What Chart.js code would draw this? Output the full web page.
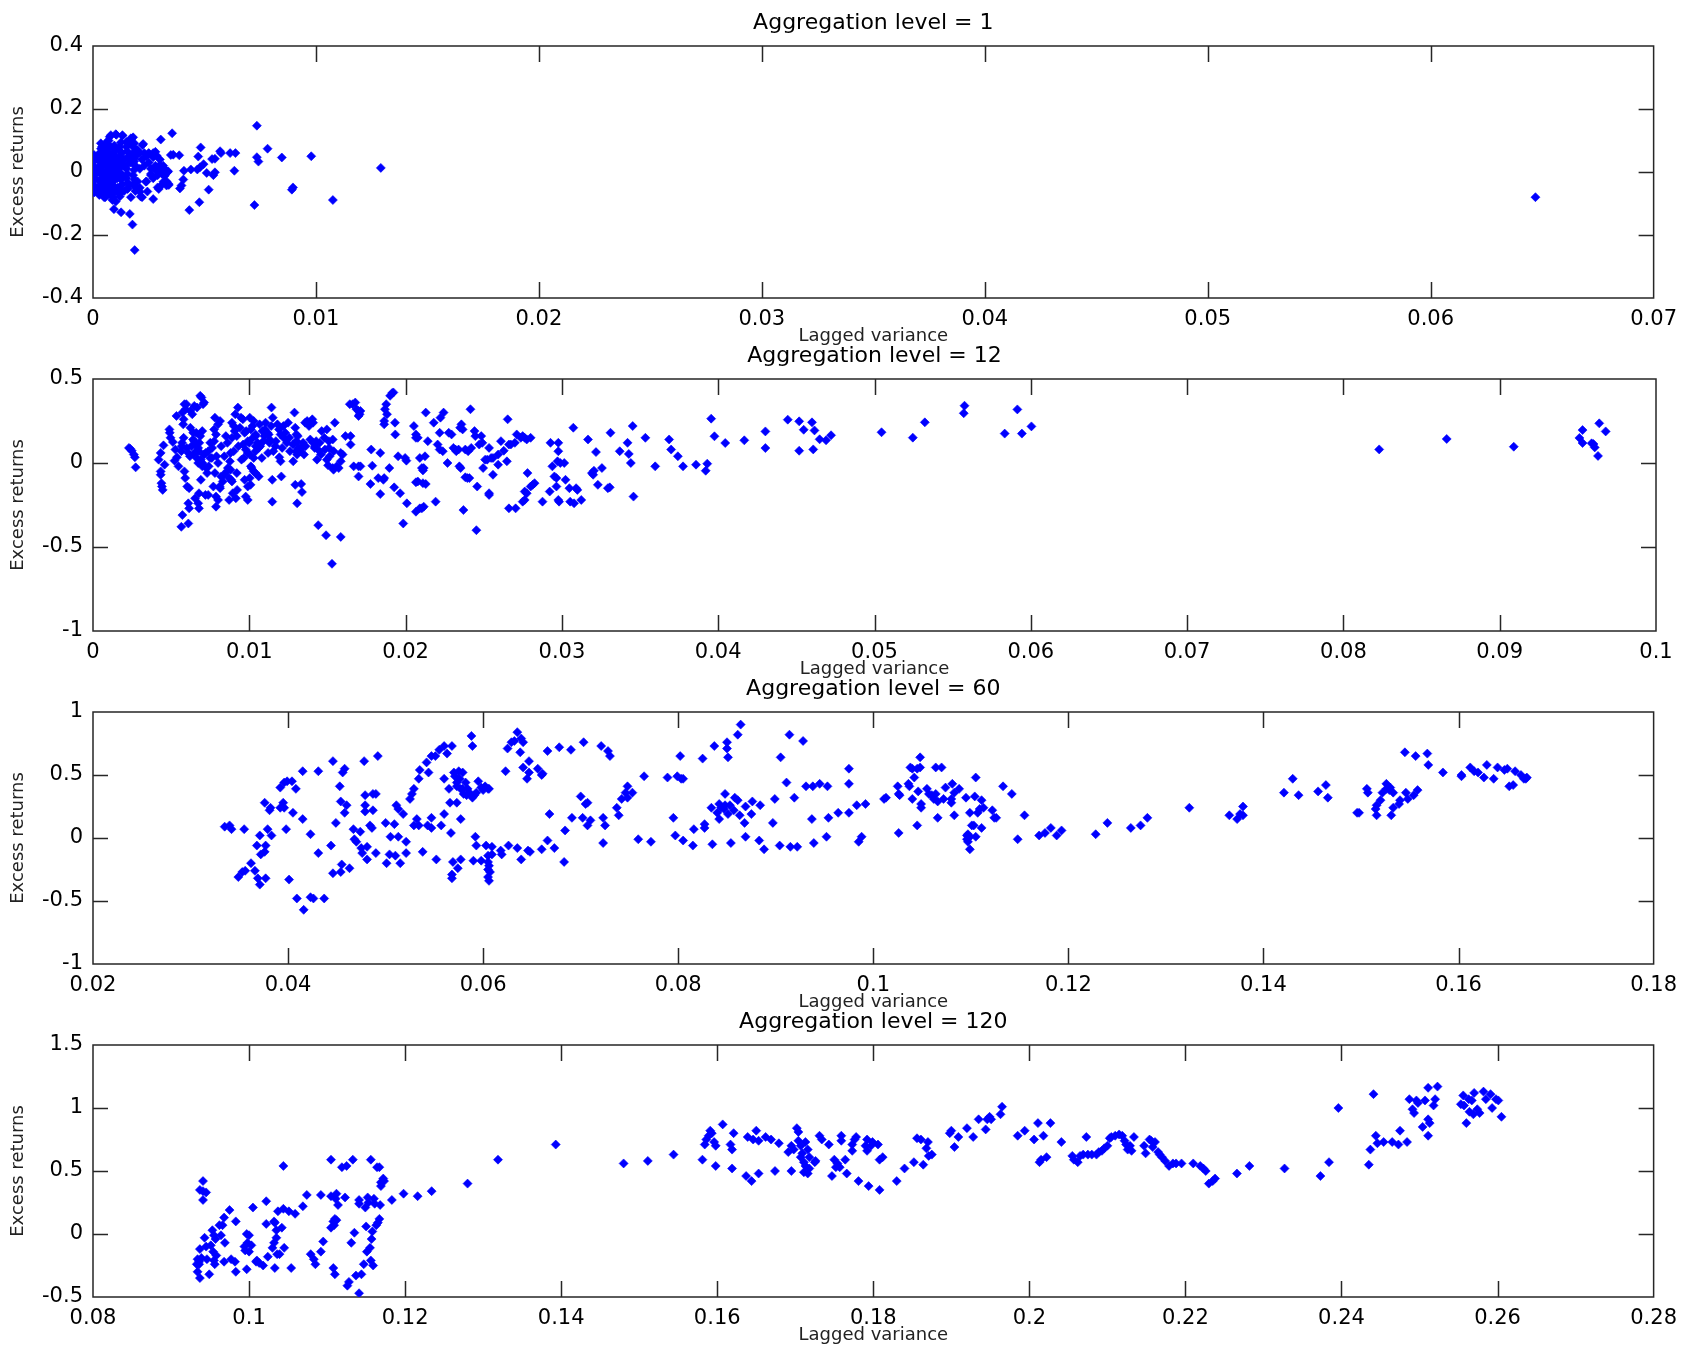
<!DOCTYPE html>
<html>
<head>
<meta charset="utf-8">
<script src="https://cdn.jsdelivr.net/npm/chart.js@4.4.1/dist/chart.umd.min.js"></script>
<style>
  html, body { margin: 0; padding: 0; background: #fff; }
  body { width: 1686px; height: 1348px; position: relative; overflow: hidden; }
  canvas { position: absolute; left: 0; }
</style>
</head>
<body>
<canvas id="c1" width="1686" height="350" style="top:0px"></canvas>
<canvas id="c2" width="1686" height="350" style="top:333px"></canvas>
<canvas id="c3" width="1686" height="350" style="top:666px"></canvas>
<canvas id="c4" width="1686" height="350" style="top:999px"></canvas>
<script>
// titles and tick labels
const titles = ['Aggregation level = 1', 'Aggregation level = 12', 'Aggregation level = 60', 'Aggregation level = 120'];
const xLabel = 'Lagged variance';
const yLabel = 'Excess returns';

const xTicks1 = [0, 0.01, 0.02, 0.03, 0.04, 0.05, 0.06, 0.07];
const yTicks1 = [-0.4, -0.2, 0, 0.2, 0.4];
const xTicks2 = [0, 0.01, 0.02, 0.03, 0.04, 0.05, 0.06, 0.07, 0.08, 0.09, 0.1];
const yTicks2 = [-1, -0.5, 0, 0.5];
const xTicks3 = [0.02, 0.04, 0.06, 0.08, 0.1, 0.12, 0.14, 0.16, 0.18];
const yTicks3 = [-1, -0.5, 0, 0.5, 1];
const xTicks4 = [0.08, 0.1, 0.12, 0.14, 0.16, 0.18, 0.2, 0.22, 0.24, 0.26, 0.28];
const yTicks4 = [-0.5, 0, 0.5, 1, 1.5];

// [lagged variance, excess return]
const level1 = [
  [0.0001,0.01],[0.0001,-0.02],[0.0002,0.04],[0.0002,-0.05],[0.0002,0.0],[0.0003,0.06],[0.0003,-0.03],[0.0003,0.02],[0.0003,-0.07],[0.0004,0.08],
  [0.0004,-0.01],[0.0004,0.03],[0.0004,-0.05],[0.0005,0.05],[0.0005,-0.08],[0.0005,0.0],[0.0005,0.07],[0.0005,-0.03],[0.0006,0.02],[0.0006,-0.06],
  [0.0006,0.09],[0.0006,0.04],[0.0006,-0.02],[0.0007,0.06],[0.0007,-0.04],[0.0007,0.01],[0.0007,-0.07],[0.0007,0.1],[0.0008,0.03],[0.0008,-0.01],
  [0.0008,0.05],[0.0008,-0.05],[0.0008,0.08],[0.0009,0.0],[0.0009,-0.08],[0.0009,0.06],[0.0009,-0.03],[0.001,0.02],[0.001,-0.06],[0.001,0.04],
  [0.001,0.07],[0.0011,-0.02],[0.0011,0.01],[0.0011,-0.05],[0.0012,0.05],[0.0012,-0.07],[0.0012,0.03],[0.0012,0.08],[0.0013,-0.01],[0.0013,-0.04],
  [0.0013,0.06],[0.0014,0.02],[0.0014,-0.06],[0.0014,0.04],[0.0015,0.08],[0.0015,-0.02],[0.0015,0.01],[0.0016,0.09],[0.0016,-0.04],[0.0016,0.05],
  [0.0017,-0.08],[0.0017,0.03],[0.0018,0.06],[0.0018,-0.01],[0.0018,0.08],[0.0019,0.02],[0.0019,-0.06],[0.0019,0.05],[0.002,0.07],[0.002,-0.03],
  [0.0021,0.01],[0.0021,0.06],[0.0021,-0.05],[0.0022,0.04],[0.0022,-0.08],[0.0023,0.06],[0.0023,0.02],[0.0024,0.05],[0.0024,-0.03],[0.0025,0.03],
  [0.0025,0.06],[0.0026,0.01],[0.0027,0.06],[0.0027,-0.02],[0.0028,0.02],[0.0029,-0.01],[0.003,0.04],[0.003,0.0],[0.0031,-0.04],[0.0032,0.01],
  [0.0033,0.0],[0.0033,-0.03],
  [0.00005,-0.065],[0.00006,-0.044],[0.00004,-0.026],[0.00005,-0.006],[0.00006,0.016],[0.00004,0.034],[0.00005,0.054],
  [0.00035,-0.064],[0.00036,-0.046],[0.00034,-0.024],[0.00035,-0.004],[0.00036,0.014],[0.00034,0.036],[0.00035,0.056],[0.00036,0.074],
  [0.00065,-0.066],[0.00066,-0.044],[0.00064,-0.026],[0.00065,-0.004],[0.00066,0.016],[0.00064,0.034],[0.00065,0.056],[0.00066,0.076],
  [0.00095,-0.064],[0.00096,-0.046],[0.00094,-0.024],[0.00095,-0.006],[0.00096,0.014],[0.00094,0.036],[0.00095,0.054],[0.00096,0.084],
  [0.00125,-0.056],[0.00126,-0.024],[0.00124,-0.004],[0.00125,0.016],[0.00126,0.036],[0.00124,0.064],[0.00125,0.094],
  [0.00155,-0.054],[0.00156,-0.034],[0.00154,-0.006],[0.00155,0.024],[0.00156,0.044],[0.00154,0.066],
  [0.00185,-0.044],[0.00186,-0.024],[0.00184,0.006],[0.00185,0.034],[0.00186,0.044],
  [0.00075,0.112],[0.00105,0.118],[0.00132,0.115],[0.00172,0.105],[0.0018,0.11],[0.00225,0.089],[0.0027,-0.086],[0.00295,-0.054],[0.0033,-0.043],[0.00339,-0.038],
  [0.00177,-0.167],[0.00187,-0.248],[0.00165,-0.133],[0.00126,-0.128],[0.00094,-0.118],[0.00102,-0.094],
  [0.00355,0.123],[0.00304,0.103],[0.00483,0.078],[0.00472,0.049],[0.00534,0.041],[0.00547,0.042],[0.0057,0.066],[0.00574,0.06],[0.00615,0.06],[0.00639,0.06],
  [0.00634,0.004],[0.00439,0.008],[0.00408,0.004],[0.00468,0.008],[0.0048,0.015],[0.00496,0.025],[0.0051,-0.003],[0.0054,-0.01],[0.00547,-0.001],[0.00337,0.002],
  [0.00349,0.054],[0.0036,0.055],[0.00387,0.053],[0.0039,-0.052],[0.00397,-0.043],[0.00405,-0.024],[0.00477,-0.096],[0.00432,-0.121],[0.00519,-0.056],[0.00724,-0.105],
  [0.00735,0.147],[0.00735,0.047],[0.00742,0.033],[0.00783,0.074],[0.00847,0.046],[0.00979,0.05],[0.01291,0.013],[0.01076,-0.089],[0.00897,-0.049],[0.00892,-0.056],
  [0.0026,-0.006],[0.00285,0.004],[0.00315,0.02],[0.003,0.015],[0.0027,0.047],[0.00285,0.052],[0.0031,-0.006],[0.00322,-0.012],
  [0.0025,0.059],[0.0028,0.064],[0.0030,0.022],[0.0032,0.006],[0.00335,0.0],[0.00316,-0.031],[0.0034,-0.041],[0.0029,-0.049],[0.00244,-0.062],[0.00214,-0.078],
  [0.0021,-0.063],[0.00237,-0.031],[0.0026,-0.01],[0.00274,0.012],[0.00222,0.086],[0.00185,0.091],[0.0015,0.095],[0.0017,0.107],[0.00132,0.117],[0.00102,0.12],
  [0.0008,0.117],[0.00035,0.091],[0.00065,0.098],[0.00028,-0.073],[0.00055,-0.08],[0.00087,-0.089],[0.0012,-0.078],[0.00155,-0.052],[0.0018,-0.04],
  [0.0647,-0.08]
];

const level12 = [
  [0.0023,0.09],[0.00238,0.085],[0.00248,0.073],[0.00261,0.05],[0.00268,0.034],[0.00273,-0.026],
  [0.0042,0.02],[0.00433,0.06],[0.00451,0.105],[0.00433,-0.05],[0.00433,-0.07],[0.00438,-0.12],[0.00441,-0.14],[0.00446,-0.16],[0.00458,-0.01],
  [0.00489,0.2],[0.00491,0.18],[0.00496,0.15],[0.00511,0.125],[0.00534,0.28],[0.00527,0.08],[0.00522,0.014],[0.00537,0.034],[0.00547,-0.02],[0.00565,0.07],
  [0.00567,0.1],[0.00572,0.3],[0.00585,0.35],[0.00597,0.35],[0.00592,0.32],[0.0058,0.26],[0.00577,0.23],[0.00572,-0.31],[0.00565,-0.38],[0.0061,-0.36],
  [0.0061,-0.24],[0.00615,-0.27],[0.00585,-0.05],[0.0059,-0.09],[0.00603,-0.14],[0.00615,-0.15],[0.00623,0.31],[0.00635,0.29],[0.00648,0.34],[0.00666,0.33],
  [0.00686,0.4],[0.00694,0.39],[0.00711,0.36],[0.00704,0.35],[0.00623,0.21],[0.00641,0.18],[0.00648,0.13],[0.00661,0.11],[0.00673,0.09],[0.00686,0.16],
  [0.00699,0.19],[0.00643,0.05],[0.00668,0.026],[0.00678,0.07],[0.00653,-0.21],[0.00678,-0.18],[0.00719,-0.19],[0.00737,-0.19],[0.00678,-0.27],[0.00673,-0.24],
  [0.00673,0],[0.00699,-0.02],[0.00724,-0.03],[0.00749,0.03],[0.00737,0.07],[0.00762,0.09],[0.00775,0.13],[0.00787,0.17],[0.008,0.23],[0.00813,0.25],
  [0.00775,0.2],[0.00787,-0.2],[0.00787,-0.26],[0.008,-0.22],[0.0077,-0.14],[0.00813,-0.15],[0.0083,-0.11],[0.00838,-0.07],[0.00856,-0.05],[0.00871,-0.09],
  [0.00884,-0.1],[0.00863,-0.03],[0.00876,0.01],[0.00889,0.15],[0.00901,0.22],[0.00889,0.24],[0.00906,0.19],[0.00927,0.33],[0.00947,0.27],[0.00959,0.26],
  [0.00914,-0.21],[0.00894,-0.18],[0.00871,-0.22],[0.00889,-0.11],[0.00922,-0.16],[0.00977,-0.2],[0.0099,-0.22],[0.01003,-0.09],[0.01015,-0.03],[0.01028,-0.05],
  [0.0099,-0.14],[0.01008,-0.13],[0.01003,0.27],[0.01028,0.25],[0.01023,0.15],[0.01041,0.16],[0.01053,0.12],[0.01041,0.1],[0.0099,0.13],[0.00977,0.08],
  [0.00965,0.03],[0.01003,0.05],[0.01028,0.03],[0.01066,0.23],[0.01084,0.19],[0.01096,0.16],[0.01104,0.24],[0.01116,0.18],[0.01124,0.17],[0.01129,0.12],
  [0.01142,0.33],[0.01147,-0.1],[0.01147,-0.23],[0.01154,0.07],[0.01167,0.1],[0.01192,0.034],[0.012,0.01],[0.01205,-0.08],[0.0118,0.23],[0.012,0.17],
  [0.01218,0.22],[0.0123,0.18],[0.01248,0.24],[0.01256,0.15],[0.01289,0.3],[0.01294,0.21],[0.01301,0.17],[0.01306,0.125],[0.01314,0.09],[0.01299,0.07],
  [0.01306,0.05],[0.01281,0.01],[0.01294,-0.13],[0.01306,-0.24],[0.01332,-0.125],[0.01337,-0.173],[0.01327,0.07],[0.01337,0.1],[0.01344,0.12],[0.01357,0.24],
  [0.0137,0.25],[0.01382,0.22],[0.01403,0.26],[0.01408,0.24],[0.01428,0.13],[0.01446,0.073],[0.01458,0.05],[0.01484,0.08],[0.01496,0.02],[0.01504,-0.014],
  [0.01514,0.04],[0.01534,-0.03],[0.01539,-0.04],[0.01559,-0.02],[0.01572,-0.03],[0.01585,0.01],[0.01597,0.05],[0.01408,0.12],[0.01418,0.09],[0.01433,0.02],
  [0.01463,0.19],[0.01496,0.2],[0.01509,0.13],[0.01534,0.14],[0.01547,0.24],[0.01585,0.06],[0.01615,0.16],[0.01648,0.11],[0.01648,0.16],[0.01441,-0.37],
  [0.01491,-0.43],[0.01529,-0.6],[0.01585,-0.44],[0.01643,0.35],[0.01661,0.35],[0.01678,0.36],[0.01686,0.32],[0.01699,0.31],[0.01699,0.28],[0.01706,0.29],
  [0.01711,0.31],[0.01668,-0.02],[0.01699,-0.02],[0.01711,-0.02],[0.01699,-0.08],[0.0178,0.08],[0.01787,-0.016],[0.01775,-0.125],[0.01825,-0.09],[0.01838,-0.185],
  [0.01858,-0.1],[0.01863,-0.09],[0.01838,0.06],[0.01881,0.29],[0.01863,0.25],[0.01863,0.23],[0.01876,0.35],[0.01868,0.32],[0.01901,0.4],[0.01914,0.417],
  [0.01922,0.42],[0.01896,-0.03],[0.01932,0.24],[0.01934,0.17],[0.01927,-0.145],[0.01952,0.04],[0.01965,-0.18],[0.01985,-0.36],[0.02008,-0.24],[0.01997,0.03],
  [0.02005,0.014],[0.02053,0.22],[0.02066,0.17],[0.02066,0.15],[0.02078,0.15],[0.02091,0.03],[0.02104,-0.03],[0.02111,-0.044],[0.02078,-0.11],[0.02066,-0.115],
  [0.02111,-0.12],[0.02129,-0.125],[0.02116,-0.03],[0.02124,0.04],[0.02142,0.13],[0.02129,0.3],[0.02091,-0.27],[0.02104,-0.27],[0.02116,-0.26],[0.02066,-0.29],
  [0.0218,0.24],[0.02192,-0.23],[0.02218,0.18],[0.02223,0.27],[0.02243,0.3],[0.02205,0.11],[0.02218,0.08],[0.02238,0.07],[0.02268,0],[0.02276,0.18],
  [0.02294,0.17],[0.02306,0.09],[0.02319,0.08],[0.02324,0.07],[0.02339,0.08],[0.02349,0.21],[0.02357,0.23],[0.02365,0.2],[0.02344,-0.02],[0.02352,-0.03],
  [0.02382,0.08],[0.024,0.07],[0.0237,-0.28],[0.02382,-0.085],[0.02395,-0.09],[0.02408,-0.09],[0.02415,0.32],[0.0242,0.09],[0.02441,0.19],[0.02446,0.16],
  [0.02458,-0.14],[0.02453,-0.4],[0.02471,0.11],[0.02484,0.16],[0.02491,0.12],[0.02496,-0.03],[0.02509,0.02],[0.02522,0.02],[0.02534,0.09],[0.02547,0.03],
  [0.02559,0.03],[0.02534,-0.18],[0.02534,-0.19],[0.02559,-0.07],[0.02592,0.05],[0.02592,-0.01],[0.0261,0.13],[0.02628,0.073],[0.02648,0.01],[0.02653,0.26],
  [0.02661,0.11],[0.02673,0.11],[0.02699,0.12],[0.02711,0.17],[0.02661,-0.27],[0.02704,-0.27],[0.02737,0.15],[0.02749,0.16],[0.02762,0.15],[0.02775,0.14],
  [0.028,0.15],[0.0278,-0.06],[0.02762,-0.17],[0.02775,-0.18],[0.028,-0.14],[0.02813,-0.13],[0.02825,-0.12],[0.02762,-0.22],[0.02749,-0.23],[0.02876,-0.23],
  [0.02922,-0.17],[0.02927,0.12],[0.02939,-0.02],[0.02952,-0.08],[0.02965,-0.09],[0.02977,0.12],[0.02977,0.07],[0.02972,0.01],[0.0299,0],[0.02965,-0.14],
  [0.02977,-0.22],[0.02982,-0.23],[0.03015,0],[0.03023,-0.1],[0.03048,-0.15],[0.03053,-0.23],[0.03078,-0.24],[0.03099,-0.16],[0.03091,-0.15],[0.03124,-0.22],
  [0.03073,0.21],[0.03167,0.14],[0.03192,-0.06],[0.032,-0.07],[0.03205,-0.046],[0.03218,0.065],[0.0323,-0.13],[0.03256,-0.03],[0.03294,-0.15],[0.03306,-0.145],
  [0.03311,0.18],[0.0337,0.07],[0.0342,0.12],[0.03428,0.054],[0.03441,0],[0.03453,0.22],[0.03458,-0.2],[0.03534,0.15],[0.03597,-0.02],[0.03686,0.14],
  [0.03699,0.08],[0.03742,0.04],[0.03775,-0.02],[0.03858,-0.01],
  [0.0392,-0.046],[0.0393,-0.004],[0.03955,0.264],[0.03976,0.159],[0.04045,0.119],[0.04167,0.135],[0.04302,0.188],[0.04302,0.089],
  [0.04445,0.258],[0.04518,0.248],[0.04547,0.198],[0.04518,0.073],[0.046,0.242],[0.04616,0.194],[0.04608,0.081],[0.04649,0.141],[0.0469,0.135],[0.04722,0.165],
  [0.05045,0.183],[0.05245,0.151],[0.05322,0.242],[0.05576,0.341],[0.05571,0.296],[0.05833,0.175],[0.05914,0.319],[0.05943,0.175],[0.06004,0.218],[0.08229,0.081],
  [0.08661,0.143],[0.0909,0.097],[0.0951,0.149],[0.0953,0.196],[0.0953,0.119],[0.096,0.113],[0.09608,0.093],[0.09637,0.236],[0.09629,0.042],[0.09678,0.188],[0.09588,0.117],
  [0.0075,0.12],[0.0082,0.1],[0.0088,0.06],[0.0093,0.1],[0.0097,0.18],[0.0101,0.2],[0.0104,0.07],[0.0107,0.1],[0.0112,0.06],[0.0117,0.13],
  [0.0121,0.09],[0.0126,0.07],[0.0131,0.16],[0.0135,0.05],[0.0071,0.05],[0.0066,0.18],[0.0063,0.1],[0.0058,0.15],[0.0069,0.02],[0.0079,0.04],
  [0.0085,0.16],[0.0095,0.02],[0.0109,0.13],[0.0114,0.22],[0.0099,0.06],[0.0061,0.06],[0.0078,0.27],[0.0091,0.29],
  [0.0057,0.12],[0.006,0.09],[0.0062,0.04],[0.0064,0.14],[0.0066,0.07],[0.0068,0.12],[0.007,0.0],[0.0072,0.06],[0.0074,-0.02],[0.0076,0.03],
  [0.0078,-0.06],[0.008,0.0],[0.0082,-0.08],[0.0084,0.04],[0.0086,0.12],[0.0088,-0.04],[0.009,0.07],[0.0092,0.16],[0.0094,0.21],[0.0096,0.11],
  [0.0098,0.19],[0.01,0.12],[0.0102,0.22],[0.0104,0.17],[0.0106,0.09],[0.0101,-0.02],[0.0104,-0.06],[0.0106,-0.08],[0.0108,0.03],[0.011,0.2],
  [0.0113,0.14],[0.0115,0.27],[0.0119,0.2],[0.0122,0.15],[0.0124,0.12],[0.0128,0.11],[0.013,0.13],[0.0133,0.085],[0.0136,0.1],[0.0139,0.14],
  [0.0142,0.1],[0.0145,0.12],[0.0148,0.15],[0.0151,0.09],[0.0154,0.07],[0.0069,-0.1],[0.0073,-0.06],[0.0081,-0.14],[0.0092,-0.06],[0.0097,-0.1]
];

const level60 = [
  [0.0335,0.09],[0.034,0.1],[0.0342,0.07],[0.0355,0.07],[0.0349,-0.31],[0.0353,-0.27],[0.0356,-0.26],[0.0362,-0.2],[0.0366,-0.26],[0.0369,-0.32],
  [0.0371,-0.37],[0.0377,-0.32],[0.0368,-0.06],[0.0372,-0.13],[0.0377,-0.06],[0.0376,-0.11],[0.0371,0.02],[0.0379,0.07],[0.0383,0.02],[0.0376,0.28],
  [0.0381,0.22],[0.0382,0.24],[0.0392,0.4],[0.0396,0.44],[0.0399,0.45],[0.0404,0.45],[0.0408,0.39],[0.0395,0.28],[0.0396,0.24],[0.0392,0.24],
  [0.0405,0.2],[0.0398,0.07],[0.0401,-0.33],[0.0409,-0.48],[0.0416,-0.57],[0.0423,-0.47],[0.0426,-0.48],[0.0437,-0.48],[0.0415,0.53],[0.0415,0.15],
  [0.0423,0.03],[0.0431,0.53],[0.0431,-0.12],[0.0446,0.61],[0.0444,-0.06],[0.0446,-0.28],[0.0454,-0.27],[0.0455,-0.21],[0.0463,-0.24],[0.0449,0.12],
  [0.0453,0.41],[0.0454,0.29],[0.0456,0.52],[0.0458,0.55],[0.046,0.26],[0.0458,0.2],[0.0467,0.07],[0.0468,-0.01],[0.0474,0.05],[0.047,-0.03],
  [0.0475,-0.08],[0.0476,-0.12],[0.0481,-0.07],[0.0478,0.61],[0.0479,0.34],[0.0479,0.26],[0.0479,0.21],[0.0481,-0.17],[0.0484,0.1],[0.0486,0.08],
  [0.0487,0.35],[0.049,0.35],[0.0487,0.22],[0.0492,0.65],[0.049,-0.12],[0.05,0.12],[0.0501,-0.2],[0.0505,0.01],[0.0504,-0.13],[0.0509,0.11],
  [0.051,-0.14],[0.0513,0.01],[0.0511,0.26],[0.0513,0.23],[0.0515,-0.2],[0.0518,0.19],[0.0521,-0.03],[0.0521,-0.12],[0.0525,0.31],[0.0527,0.35],
  [0.0529,0.39],[0.0532,0.15],[0.0529,0.1],[0.0534,0.1],[0.0534,0.47],[0.0535,0.54],[0.0538,-0.11],[0.0542,0.6],[0.0544,0.52],[0.0543,0.1],
  [0.0547,0.65],[0.0547,0.16],[0.0547,0.08],[0.0551,0.65],[0.0552,-0.17],[0.0555,0.7],[0.0557,0.1],[0.056,0.73],[0.056,0.47],[0.056,0.19],
  [0.0563,0.67],[0.0565,0.39],[0.0566,0.28],[0.0568,0.73],[0.0567,0.04],[0.0568,-0.29],[0.0568,-0.32],[0.0569,-0.19],[0.057,0.52],[0.0571,0.49],
  [0.0573,0.44],[0.0573,0.41],[0.0573,0.28],[0.0574,-0.24],[0.0575,0.53],[0.0576,0.47],[0.0577,0.39],[0.0577,0.15],[0.0577,-0.17],[0.0579,0.52],
  [0.0579,0.39],[0.058,0.35],[0.0582,0.44],[0.0583,0.34],[0.0584,0.39],[0.0586,0.36],[0.0588,0.81],[0.0589,0.73],[0.0589,0.32],[0.059,-0.18],
  [0.0591,0.34],[0.0592,0.01],[0.0593,0.36],[0.0593,-0.06],[0.0595,0.45],[0.0598,0.4],[0.0598,-0.18],[0.06,0.38],[0.0602,0.41],[0.0603,-0.06],
  [0.0605,0.39],[0.0606,0.39],[0.0605,-0.14],[0.0605,-0.19],[0.0606,-0.22],[0.0605,-0.25],[0.0607,-0.27],[0.0605,-0.31],[0.0606,-0.34],[0.0609,-0.07],
  [0.0609,-0.13],[0.0618,-0.1],[0.0619,-0.13],[0.0623,0.53],[0.0625,0.71],[0.0626,-0.06],[0.0629,0.76],[0.0632,0.77],[0.0635,0.84],[0.0635,-0.08],
  [0.0638,0.68],[0.0639,0.79],[0.0641,0.76],[0.0639,-0.17],[0.0641,0.56],[0.0645,0.47],[0.0647,0.61],[0.0647,0.52],[0.0646,-0.1],[0.0648,-0.11],
  [0.0656,0.55],[0.066,0.5],[0.0661,0.51],[0.066,-0.09],[0.0666,0.69],[0.0666,-0.02],[0.0668,0.19],[0.0673,-0.08],[0.0678,0.72],[0.0684,0.06],
  [0.0683,-0.19],[0.069,0.7],[0.0691,0.16],[0.07,0.33],[0.0702,0.16],[0.0705,0.27],[0.0707,0.1],[0.0707,0.28],[0.071,0.14],[0.0703,0.76],
  [0.0721,0.73],[0.0723,0.16],[0.0725,0.1],[0.0723,-0.04],[0.0728,0.69],[0.073,0.65],[0.0737,0.24],[0.0739,0.18],[0.0742,0.31],[0.0746,0.36],
  [0.0748,0.41],[0.0748,0.32],[0.0753,0.36],[0.0759,-0.01],[0.0765,0.49],[0.0772,-0.03],[0.0789,0.48],[0.0795,0.16],[0.0797,0.02],[0.0799,0.49],
  [0.0802,0.65],[0.0803,0.47],[0.0805,-0.02],[0.0805,0.47],[0.0815,-0.06],[0.0816,0.07],[0.0825,0.63],[0.0827,0.11],[0.0827,0.08],[0.0834,0.24],
  [0.0835,-0.05],[0.0837,0.73],[0.084,0.2],[0.0842,0.27],[0.0842,0.15],[0.0844,0.24],[0.0847,0.23],[0.0848,0.35],[0.0848,0.26],[0.085,0.71],
  [0.085,0.76],[0.0851,0.64],[0.0851,0.19],[0.0853,0.26],[0.0854,-0.04],[0.0857,0.22],[0.0858,0.32],[0.0861,0.3],[0.0861,0.82],[0.0864,0.9],
  [0.0863,0.18],[0.0868,0.12],[0.0869,0.25],[0.0869,0.01],[0.0876,0.29],[0.0875,0.19],[0.0884,0.26],[0.0883,-0.02],[0.0888,-0.09],[0.0897,0.12],
  [0.0899,0.31],[0.0904,-0.06],[0.0905,0.64],[0.0911,0.44],[0.0914,0.82],[0.0915,-0.07],[0.0919,0.32],[0.0922,-0.07],[0.0928,0.77],[0.0931,0.41],
  [0.0937,0.15],[0.0938,0.41],[0.0939,-0.04],[0.0945,0.43],[0.0952,0.01],[0.0953,0.41],[0.0954,0.16],[0.0964,0.2],[0.0975,0.55],[0.0975,0.2],
  [0.0975,0.43],[0.0983,0.26],[0.0985,-0.03],[0.0988,0.01],[0.0992,0.27],
  [0.1011,0.31],[0.1013,0.32],[0.1025,0.41],[0.1026,0.35],[0.1027,0.34],[0.1026,0.04],[0.1036,0.43],[0.1037,0.41],[0.1038,0.56],[0.104,0.31],
  [0.1042,0.48],[0.104,0.55],[0.1045,0.55],[0.1046,0.37],[0.1048,0.64],[0.1048,0.56],[0.1049,0.27],[0.1049,0.24],[0.1045,0.1],[0.1055,0.39],
  [0.1057,0.35],[0.106,0.34],[0.1062,0.31],[0.1064,0.35],[0.1066,0.29],[0.1066,0.16],[0.1064,0.56],[0.107,0.56],[0.1072,0.31],[0.1074,0.4],
  [0.108,0.31],[0.108,0.28],[0.1081,0.43],[0.1083,0.18],[0.1083,0.36],[0.1088,0.39],[0.1095,0.32],[0.1096,0.02],[0.1096,-0.01],[0.1097,0.03],
  [0.1097,-0.03],[0.1099,0.01],[0.1099,-0.09],[0.1099,0.2],[0.1101,0.1],[0.1103,0.1],[0.1104,0.33],[0.1105,0.48],[0.1105,0.01],[0.1107,0.2],
  [0.1109,0.23],[0.1111,0.3],[0.1111,0.08],[0.1113,0.24],[0.1122,0.22],[0.1124,0.16],[0.1126,0.16],[0.1133,0.41],[0.1142,0.35],[0.1148,-0.01],
  [0.1155,0.18],[0.117,0.02],[0.1176,0.04],[0.1182,0.08],[0.1188,0.02],[0.1193,0.06],[0.1228,0.03],[0.124,0.12],[0.1264,0.08],[0.1274,0.1],
  [0.1281,0.16],[0.1324,0.24],[0.1365,0.18],[0.1373,0.15],[0.1376,0.19],[0.1379,0.18],[0.1379,0.25],[0.1421,0.36],[0.143,0.47],[0.1436,0.34],
  [0.1456,0.37],[0.1464,0.42],[0.1466,0.32],[0.1496,0.2],[0.1498,0.2],[0.1506,0.39],[0.1507,0.36],[0.1515,0.23],[0.1516,0.18],[0.1516,0.26],
  [0.152,0.3],[0.1522,0.36],[0.1526,0.43],[0.1526,0.39],[0.1529,0.38],[0.153,0.4],[0.1531,0.18],[0.1533,0.36],[0.1533,0.24],[0.1539,0.27],
  [0.154,0.3],[0.1546,0.36],[0.1548,0.31],[0.1554,0.34],[0.1558,0.38],[0.1545,0.68],[0.1556,0.65],[0.1568,0.67],[0.1569,0.58],[0.1584,0.52],
  [0.1603,0.49],[0.1603,0.5],[0.1612,0.56],[0.1616,0.53],[0.162,0.52],[0.1626,0.48],[0.1629,0.58],[0.1636,0.47],[0.164,0.56],[0.1647,0.54],
  [0.165,0.55],[0.1652,0.41],[0.1656,0.42],[0.1658,0.53],[0.1664,0.5],[0.1667,0.47],[0.1669,0.47],[0.167,0.48]
];

const level120 = [
  [0.0941,0.42],[0.0937,0.35],[0.0941,0.34],[0.0945,0.33],[0.0941,0.27],[0.0934,-0.2],[0.0936,-0.22],[0.0933,-0.24],[0.0936,-0.24],[0.0934,-0.3],
  [0.0937,-0.35],[0.0939,-0.19],[0.0937,-0.12],[0.0943,-0.03],[0.0945,-0.1],[0.0946,-0.2],[0.0949,-0.32],[0.0953,0.03],[0.0951,-0.09],[0.0954,-0.14],
  [0.0955,-0.21],[0.0956,-0.24],[0.0957,-0.04],[0.0958,-0.17],[0.0955,-0.01],[0.0962,0.07],[0.0964,-0.01],[0.0966,0.07],[0.0968,0.13],[0.0969,-0.07],
  [0.0968,-0.22],[0.0975,0.19],[0.0977,-0.2],[0.0982,-0.22],[0.0983,0.1],[0.0983,-0.3],[0.0994,-0.1],[0.0995,-0.13],[0.0997,0.0],[0.0998,-0.07],
  [0.1,-0.01],[0.0997,-0.28],[0.1,-0.14],[0.1003,-0.09],[0.1005,0.21],[0.1009,-0.22],[0.101,-0.21],[0.1013,-0.23],[0.1018,-0.25],[0.1022,0.26],
  [0.1022,0.08],[0.1024,-0.18],[0.1032,0.1],[0.1033,0.09],[0.1032,-0.07],[0.103,-0.11],[0.1035,0.03],[0.1035,-0.03],[0.1036,-0.16],[0.1037,0.18],
  [0.1033,-0.27],[0.1039,-0.16],[0.1042,0.05],[0.1044,0.2],[0.1045,-0.11],[0.1044,0.54],[0.1051,0.18],[0.1054,-0.27],[0.1059,0.16],[0.1069,0.22],
  [0.1074,0.31],[0.1079,-0.16],[0.1083,-0.2],[0.1085,-0.24],[0.1092,-0.14],[0.1095,-0.06],[0.1092,0.31],[0.1105,0.59],[0.1105,0.3],[0.1105,0.05],
  [0.1108,0.1],[0.1109,0.07],[0.111,0.12],[0.1111,0.28],[0.1112,0.11],[0.1114,0.23],[0.1108,-0.27],[0.111,-0.32],[0.1112,0.32],[0.1119,0.53],
  [0.1125,0.54],[0.1123,0.29],[0.1126,-0.41],[0.1128,-0.38],[0.1131,-0.07],[0.1133,0.59],[0.1135,0.01],[0.1137,-0.33],[0.1141,0.27],[0.1141,0.24],
  [0.1141,-0.47],[0.1144,-0.32],[0.1147,-0.24],[0.1149,0.21],[0.115,0.06],[0.1151,-0.14],[0.1152,0.29],[0.1153,0.25],[0.1155,-0.11],[0.1156,0.59],
  [0.1156,-0.21],[0.1157,-0.04],[0.1158,0.02],[0.1159,-0.25],[0.116,0.28],[0.1161,0.24],[0.1163,0.07],[0.1164,0.53],[0.1165,0.09],[0.1167,0.53],
  [0.1168,0.23],[0.1167,0.12],[0.1169,0.41],[0.1172,0.44],[0.1173,0.42],[0.1169,0.38],[0.1183,0.27],[0.1198,0.32],[0.1216,0.3],[0.1234,0.34],
  [0.128,0.4],[0.1319,0.59],[0.1393,0.71],[0.148,0.56],[0.1511,0.58],[0.1544,0.63],
  [0.1581,0.59],[0.1584,0.71],[0.1586,0.75],[0.1589,0.78],[0.1591,0.82],[0.1593,0.8],[0.1596,0.73],[0.1598,0.7],[0.1598,0.54],[0.1607,0.87],
  [0.1617,0.71],[0.1619,0.67],[0.1621,0.8],[0.1619,0.52],[0.1637,0.46],[0.1639,0.77],[0.1644,0.42],[0.1646,0.75],[0.165,0.82],[0.1653,0.48],
  [0.1653,0.74],[0.1662,0.77],[0.1669,0.75],[0.1674,0.5],[0.1679,0.72],[0.1691,0.65],[0.1695,0.7],[0.1695,0.5],[0.1698,0.67],[0.1702,0.84],
  [0.1704,0.81],[0.1704,0.74],[0.1707,0.7],[0.1707,0.61],[0.1709,0.64],[0.1711,0.57],[0.1711,0.49],[0.1713,0.73],[0.1713,0.54],[0.1716,0.67],
  [0.1716,0.48],[0.1718,0.52],[0.1718,0.61],[0.1725,0.57],[0.1726,0.58],[0.1731,0.78],[0.1734,0.75],[0.1743,0.71],[0.1747,0.46],[0.175,0.59],
  [0.1752,0.53],[0.1754,0.56],[0.1757,0.53],[0.1759,0.78],[0.1759,0.74],[0.1764,0.59],[0.1766,0.48],[0.1773,0.71],[0.1773,0.66],[0.1776,0.75],
  [0.1778,0.77],[0.1781,0.42],[0.179,0.7],[0.1792,0.66],[0.1792,0.75],[0.1794,0.38],[0.1797,0.7],[0.1799,0.73],[0.1806,0.71],[0.1808,0.35],
  [0.1808,0.59],[0.1812,0.61],[0.183,0.42],[0.184,0.52],[0.1852,0.57],[0.1856,0.76],[0.1861,0.75],[0.1864,0.55],[0.1868,0.68],[0.187,0.73],
  [0.1871,0.62],[0.1875,0.63],[0.1898,0.8],[0.19,0.82],[0.1904,0.69],[0.1909,0.77],[0.192,0.84],[0.1928,0.77],[0.1935,0.91],[0.1944,0.83],
  [0.1946,0.91],[0.1949,0.93],[0.1951,0.91],[0.1963,0.95],[0.1965,1.01],[0.1985,0.78],[0.1994,0.82],[0.2006,0.75],[0.2011,0.88],[0.2013,0.57],
  [0.2015,0.59],[0.2018,0.78],[0.2022,0.61],[0.2027,0.88],[0.2041,0.73],[0.2055,0.62],[0.2057,0.59],[0.2062,0.57],[0.2065,0.62],[0.2069,0.63],
  [0.2073,0.77],[0.2075,0.63],[0.208,0.63],[0.2086,0.63],[0.2089,0.65],[0.2093,0.66],[0.2096,0.68],[0.21,0.7],[0.2103,0.76],[0.2105,0.77],
  [0.211,0.78],[0.2115,0.79],[0.2119,0.78],[0.2122,0.74],[0.2124,0.71],[0.2126,0.67],[0.2129,0.7],[0.2131,0.66],[0.2134,0.77],[0.2147,0.7],
  [0.2149,0.64],[0.2154,0.75],[0.2156,0.74],[0.2158,0.69],[0.2161,0.73],[0.2165,0.65],[0.2167,0.63],[0.217,0.61],[0.2174,0.58],[0.2179,0.54],
  [0.2184,0.56],[0.2188,0.56],[0.2195,0.56],[0.221,0.56],[0.2219,0.54],[0.2223,0.52],[0.2226,0.5],[0.223,0.4],[0.2235,0.42],[0.2238,0.44],
  [0.2266,0.48],[0.2282,0.54],[0.2327,0.52],[0.2373,0.46],[0.2384,0.57],[0.2396,1.0],[0.2435,0.55],[0.2437,0.67],[0.2441,1.11],[0.2444,0.78],
  [0.2446,0.72],[0.2454,0.73],[0.2465,0.73],[0.2473,0.71],[0.2475,0.82],[0.2484,0.73],[0.2487,1.07],[0.2491,0.99],[0.2493,0.96],[0.2496,1.06],
  [0.2498,1.04],[0.2504,0.85],[0.2507,1.06],[0.2511,1.16],[0.2511,0.78],[0.2511,0.91],[0.2513,0.88],[0.2518,1.02],[0.252,1.07],[0.2523,1.17],
  [0.2553,1.03],[0.2556,1.1],[0.2557,1.02],[0.256,0.88],[0.2563,1.07],[0.2564,0.97],[0.2567,1.06],[0.2569,0.95],[0.257,1.12],[0.2574,0.99],
  [0.2577,0.96],[0.2582,1.13],[0.2585,1.07],[0.2591,1.11],[0.2593,1.0],[0.2598,1.07],[0.2601,1.06],[0.2605,0.93]
];

Chart.defaults.font.family = '"DejaVu Sans", sans-serif';
Chart.defaults.color = '#000';

// box round the plot, MATLAB-style inward tick marks, and the title centred on the plot box
const framePlugin = {
  id: 'frame',
  beforeDatasetsDraw(chart, args, opts) {
    const { ctx, chartArea: a, scales: { x, y } } = chart;
    ctx.save();
    ctx.strokeStyle = '#262626';
    ctx.lineWidth = 1.5;
    ctx.beginPath();
    x.ticks.forEach(t => {
      const px = Math.round(x.getPixelForValue(t.value)) + 0.5;
      if (px <= a.left + 2 || px >= a.right - 2) return;
      ctx.moveTo(px, a.bottom); ctx.lineTo(px, a.bottom - 16);
      ctx.moveTo(px, a.top); ctx.lineTo(px, a.top + 16);
    });
    y.ticks.forEach(t => {
      const py = Math.round(y.getPixelForValue(t.value)) + 0.5;
      if (py <= a.top + 2 || py >= a.bottom - 2) return;
      ctx.moveTo(a.left, py); ctx.lineTo(a.left + 15, py);
      ctx.moveTo(a.right, py); ctx.lineTo(a.right - 15, py);
    });
    ctx.stroke();
    ctx.strokeRect(a.left, a.top, a.right - a.left, a.bottom - a.top);

    ctx.fillStyle = '#000';
    ctx.font = '22px "DejaVu Sans", sans-serif';
    ctx.textAlign = 'center';
    ctx.textBaseline = 'middle';
    ctx.fillText(opts.title, (a.left + a.right) / 2, a.top - 23);
    ctx.restore();
  }
};

const fmt = v => String(parseFloat(Number(v).toFixed(4)));

function makePanel(id, title, points, xTicks, yTicks) {
  new Chart(document.getElementById(id), {
    type: 'scatter',
    data: {
      datasets: [{
        data: points.map(p => ({ x: p[0], y: p[1] })),
        pointStyle: 'rectRot',
        pointRadius: 4.5,
        backgroundColor: '#0000ff',
        borderColor: '#0000ff',
        borderWidth: 0.6
      }]
    },
    options: {
      responsive: false,
      animation: false,
      devicePixelRatio: 1,
      layout: { padding: { left: 0, right: 30, top: 46, bottom: 0 } },
      plugins: {
        legend: { display: false },
        tooltip: { enabled: false },
        title: { display: false },
        frame: { title: title }
      },
      scales: {
        x: {
          type: 'linear',
          min: xTicks[0],
          max: xTicks[xTicks.length - 1],
          afterBuildTicks: s => { s.ticks = xTicks.map(v => ({ value: v })); },
          afterFit: s => { s.height = 52; },
          grid: { display: false, drawTicks: false },
          border: { display: false },
          ticks: { padding: 9, font: { size: 21 }, color: '#000', maxRotation: 0, autoSkip: false, callback: fmt },
          title: { display: true, text: xLabel, font: { size: 18 }, color: '#222', padding: { top: 0, bottom: 3 } }
        },
        y: {
          type: 'linear',
          min: yTicks[0],
          max: yTicks[yTicks.length - 1],
          afterBuildTicks: s => { s.ticks = yTicks.map(v => ({ value: v })); },
          afterFit: s => { s.width = 93; },
          grid: { display: false, drawTicks: false },
          border: { display: false },
          ticks: { padding: 10, font: { size: 21 }, color: '#000', autoSkip: false, callback: fmt },
          title: { display: true, text: yLabel, font: { size: 18 }, color: '#222', padding: { top: 8, bottom: 0 } }
        }
      }
    },
    plugins: [framePlugin]
  });
}

makePanel('c1', titles[0], level1, xTicks1, yTicks1);
makePanel('c2', titles[1], level12, xTicks2, yTicks2);
makePanel('c3', titles[2], level60, xTicks3, yTicks3);
makePanel('c4', titles[3], level120, xTicks4, yTicks4);
</script>
</body>
</html>
